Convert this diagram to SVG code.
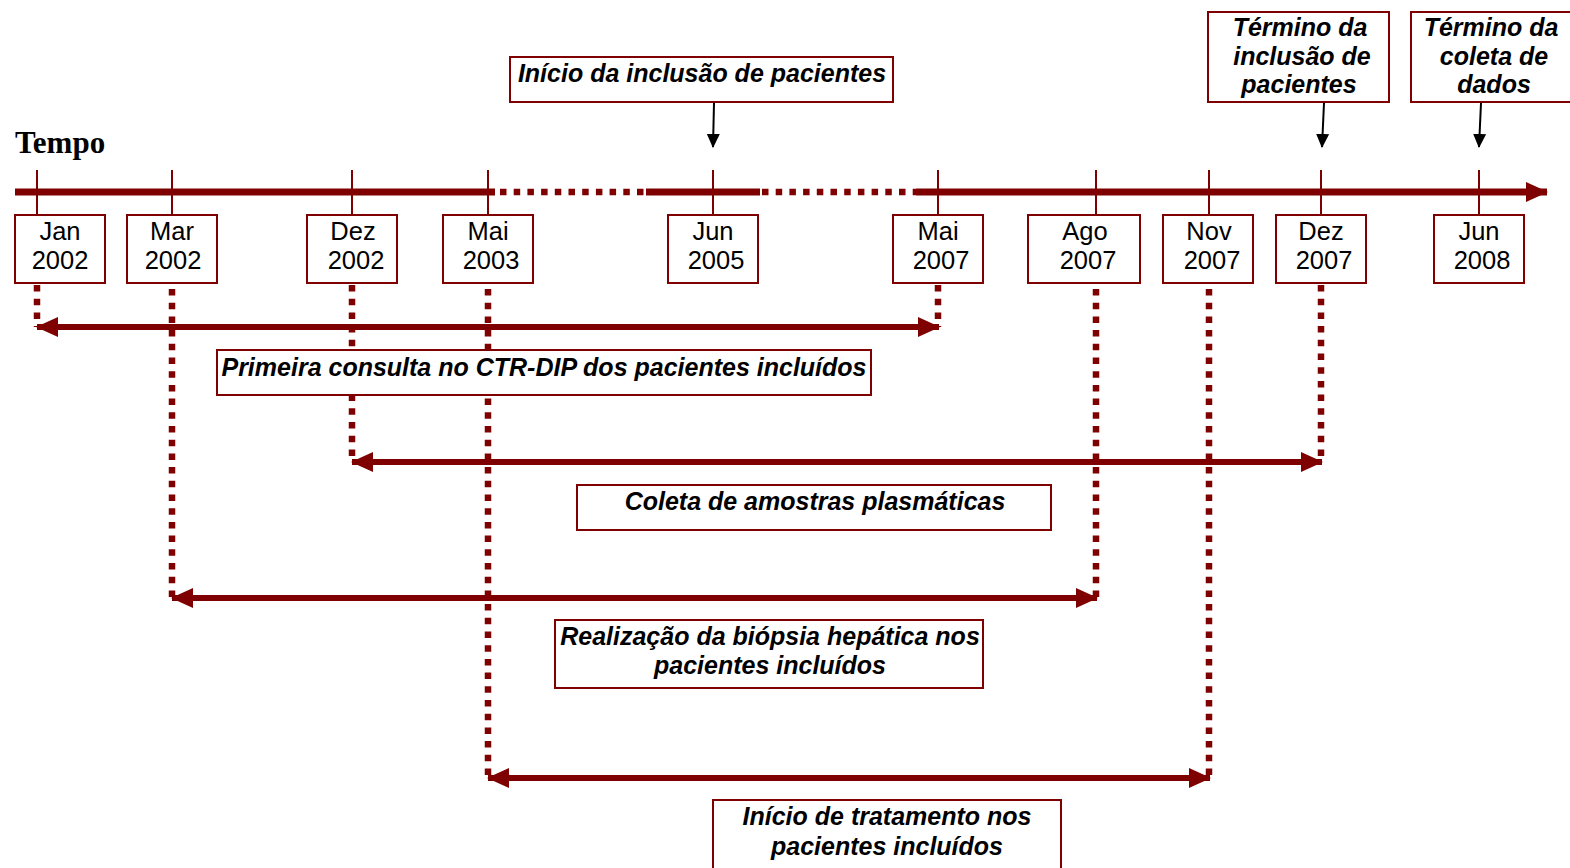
<svg xmlns="http://www.w3.org/2000/svg" width="1570" height="868" viewBox="0 0 1570 868">
<style>
.box{fill:#fff;stroke:#7f0000;stroke-width:2}
.date{font-family:"Liberation Sans",Arial,sans-serif;font-size:25.5px;fill:#000;text-anchor:middle}
.lbl{font-family:"Liberation Sans",Arial,sans-serif;font-size:25px;font-weight:bold;font-style:italic;fill:#000;text-anchor:middle}
.tick{stroke:#7f0000;stroke-width:2}
.axis{stroke:#7f0000;stroke-width:7;fill:none}
.axisdot{stroke:#7f0000;stroke-width:6.5;stroke-dasharray:6.5 7.2;fill:none}
.vdot{stroke:#7f0000;stroke-width:6.5;stroke-dasharray:6.5 7.2;fill:none}
.range{stroke:#7f0000;stroke-width:6;fill:none}
.blk{stroke:#000;stroke-width:2;fill:none}
</style>
<defs>
<marker id="ah" markerUnits="userSpaceOnUse" markerWidth="22" markerHeight="20" refX="21" refY="10" orient="auto-start-reverse" viewBox="0 0 22 20">
<path d="M0,0 L22,10 L0,20 Z" fill="#7f0000"/>
</marker>
<marker id="bh" markerUnits="userSpaceOnUse" markerWidth="14" markerHeight="15" refX="14" refY="7" orient="auto" viewBox="0 0 15 14">
<path d="M0,0 L15,7 L0,14 Z" fill="#000"/>
</marker>
</defs>

<text x="15" y="153" font-family="'Liberation Serif','Times New Roman',serif" font-size="31" font-weight="bold">Tempo</text>

<g id="connectors">
<line class="tick" x1="37" y1="170" x2="37" y2="215"/>
<line class="tick" x1="172" y1="170" x2="172" y2="215"/>
<line class="tick" x1="352" y1="170" x2="352" y2="215"/>
<line class="tick" x1="488" y1="170" x2="488" y2="215"/>
<line class="tick" x1="713" y1="170" x2="713" y2="215"/>
<line class="tick" x1="938" y1="170" x2="938" y2="215"/>
<line class="tick" x1="1096" y1="170" x2="1096" y2="215"/>
<line class="tick" x1="1209" y1="170" x2="1209" y2="215"/>
<line class="tick" x1="1321" y1="170" x2="1321" y2="215"/>
<line class="tick" x1="1479" y1="170" x2="1479" y2="215"/>
<line class="axis" x1="15" y1="192" x2="495" y2="192"/>
<line class="axisdot" x1="500" y1="192" x2="646" y2="192"/>
<line class="axis" x1="646" y1="192" x2="760" y2="192"/>
<line class="axisdot" x1="762" y1="192" x2="916" y2="192"/>
<line class="axis" x1="916" y1="192" x2="1547" y2="192" marker-end="url(#ah)"/>
<line class="vdot" x1="37" y1="285" x2="37" y2="327"/>
<line class="vdot" x1="938" y1="285" x2="938" y2="327"/>
<line class="vdot" x1="352" y1="285" x2="352" y2="462"/>
<line class="vdot" x1="1321" y1="285" x2="1321" y2="462"/>
<line class="vdot" x1="172" y1="289" x2="172" y2="598"/>
<line class="vdot" x1="1096" y1="289" x2="1096" y2="598"/>
<line class="vdot" x1="488" y1="289" x2="488" y2="778"/>
<line class="vdot" x1="1209" y1="289" x2="1209" y2="778"/>
<line class="range" x1="37" y1="327" x2="939" y2="327" marker-start="url(#ah)" marker-end="url(#ah)"/>
<line class="range" x1="352" y1="462" x2="1322" y2="462" marker-start="url(#ah)" marker-end="url(#ah)"/>
<line class="range" x1="172" y1="598" x2="1097" y2="598" marker-start="url(#ah)" marker-end="url(#ah)"/>
<line class="range" x1="488" y1="778" x2="1210" y2="778" marker-start="url(#ah)" marker-end="url(#ah)"/>
<line class="blk" x1="714" y1="103" x2="713" y2="147" marker-end="url(#bh)"/>
<line class="blk" x1="1324" y1="103" x2="1322" y2="147" marker-end="url(#bh)"/>
<line class="blk" x1="1481" y1="103" x2="1479" y2="147" marker-end="url(#bh)"/>
</g>

<g id="d-jan2002"><rect class="box" x="15" y="215" width="90" height="68"/><text class="date" x="60" y="240">Jan</text><text class="date" x="60" y="269">2002</text></g>
<g id="d-mar2002"><rect class="box" x="127" y="215" width="90" height="68"/><text class="date" x="172" y="240">Mar</text><text class="date" x="173" y="269">2002</text></g>
<g id="d-dez2002"><rect class="box" x="307" y="215" width="90" height="68"/><text class="date" x="353" y="240">Dez</text><text class="date" x="356" y="269">2002</text></g>
<g id="d-mai2003"><rect class="box" x="443" y="215" width="90" height="68"/><text class="date" x="488" y="240">Mai</text><text class="date" x="491" y="269">2003</text></g>
<g id="d-jun2005"><rect class="box" x="668" y="215" width="90" height="68"/><text class="date" x="713" y="240">Jun</text><text class="date" x="716" y="269">2005</text></g>
<g id="d-mai2007"><rect class="box" x="893" y="215" width="90" height="68"/><text class="date" x="938" y="240">Mai</text><text class="date" x="941" y="269">2007</text></g>
<g id="d-ago2007"><rect class="box" x="1028" y="215" width="112" height="68"/><text class="date" x="1085" y="240">Ago</text><text class="date" x="1088" y="269">2007</text></g>
<g id="d-nov2007"><rect class="box" x="1163" y="215" width="90" height="68"/><text class="date" x="1209" y="240">Nov</text><text class="date" x="1212" y="269">2007</text></g>
<g id="d-dez2007"><rect class="box" x="1276" y="215" width="90" height="68"/><text class="date" x="1321" y="240">Dez</text><text class="date" x="1324" y="269">2007</text></g>
<g id="d-jun2008"><rect class="box" x="1434" y="215" width="90" height="68"/><text class="date" x="1479" y="240">Jun</text><text class="date" x="1482" y="269">2008</text></g>

<g id="n-inicio-inclusao"><rect class="box" x="510" y="57" width="383" height="45"/><text class="lbl" x="702" y="82">Início da inclusão de pacientes</text></g>
<g id="n-termino-inclusao"><rect class="box" x="1208" y="12" width="181" height="90"/><text class="lbl" x="1300" y="36">Término da</text><text class="lbl" x="1302" y="65">inclusão de</text><text class="lbl" x="1299" y="93">pacientes</text></g>
<g id="n-termino-coleta"><rect class="box" x="1411" y="12" width="165" height="90"/><text class="lbl" x="1491" y="36">Término da</text><text class="lbl" x="1494" y="65">coleta de</text><text class="lbl" x="1494" y="93">dados</text></g>

<g id="n-primeira-consulta"><rect class="box" x="217" y="350" width="654" height="45"/><text class="lbl" x="544" y="376">Primeira consulta no CTR-DIP dos pacientes incluídos</text></g>
<g id="n-coleta-amostras"><rect class="box" x="577" y="485" width="474" height="45"/><text class="lbl" x="815" y="510">Coleta de amostras plasmáticas</text></g>
<g id="n-biopsia"><rect class="box" x="555" y="620" width="428" height="68"/><text class="lbl" x="770" y="645">Realização da biópsia hepática nos</text><text class="lbl" x="770" y="674">pacientes incluídos</text></g>
<g id="n-tratamento"><rect class="box" x="713" y="800" width="348" height="75"/><text class="lbl" x="887" y="825">Início de tratamento nos</text><text class="lbl" x="887" y="855">pacientes incluídos</text></g>
</svg>
